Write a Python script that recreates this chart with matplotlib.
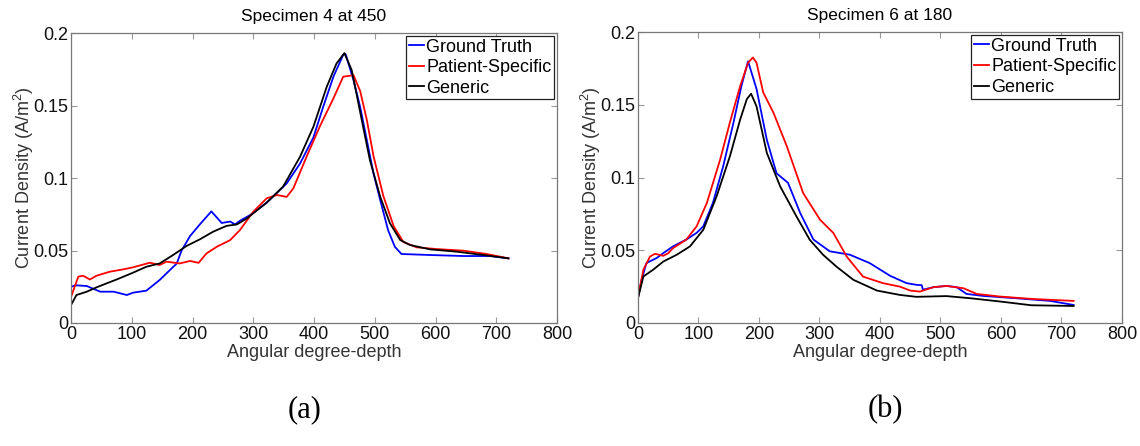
import numpy as np
import matplotlib.pyplot as plt

plt.rcParams['font.family'] = ['Liberation Sans', 'DejaVu Sans']
plt.rcParams['mathtext.default'] = 'regular'

# Specimen 4 at 450
a_gt_x = [0, 8, 26, 48, 70, 92, 102, 124, 146, 163, 174, 182, 196, 212, 231, 248, 262, 270, 278,
          295, 322, 355, 377, 399, 415, 432, 448, 452, 465, 476, 487, 498, 509, 522, 533, 544,
          591, 646, 690, 720]
a_gt_y = [0.025, 0.026, 0.0255, 0.0216, 0.0216, 0.0193, 0.0209, 0.0223, 0.0297, 0.0366, 0.041,
          0.0500, 0.0600, 0.0680, 0.0770, 0.0690, 0.0700, 0.0680, 0.0705, 0.0745, 0.0830, 0.0963,
          0.110, 0.128, 0.149, 0.170, 0.185, 0.1855, 0.1676, 0.149, 0.126, 0.103, 0.0848, 0.064,
          0.0526, 0.0476, 0.0469, 0.0462, 0.0462, 0.0446]
a_ps_x = [0, 12, 20, 31, 42, 64, 86, 102, 130, 146, 157, 179, 196, 210, 223, 240, 262, 278, 300,
          322, 339, 355, 366, 388, 410, 432, 448, 465, 476, 487, 498, 514, 531, 547, 569, 602,
          646, 684, 720]
a_ps_y = [0.018, 0.032, 0.0326, 0.030, 0.0326, 0.0354, 0.037, 0.0384, 0.0416, 0.040, 0.0423,
          0.0411, 0.0428, 0.0415, 0.048, 0.0526, 0.0572, 0.0641, 0.0768, 0.086, 0.0883, 0.087,
          0.0929, 0.115, 0.136, 0.155, 0.1699, 0.171, 0.160, 0.140, 0.115, 0.0878, 0.0669,
          0.0559, 0.0522, 0.051, 0.0499, 0.0476, 0.0446]
a_gen_x = [0, 9, 26, 42, 59, 75, 102, 124, 146, 168, 190, 212, 234, 256, 273, 289, 322, 349,
           377, 399, 421, 437, 450, 462, 470, 481, 492, 509, 525, 542, 558, 591, 635, 679, 720]
a_gen_y = [0.0124, 0.0193, 0.0216, 0.0246, 0.0274, 0.030, 0.0347, 0.0388, 0.0411, 0.0469, 0.0531,
           0.0577, 0.0630, 0.0670, 0.0680, 0.0720, 0.0830, 0.094, 0.1147, 0.1354, 0.163, 0.179,
           0.1862, 0.1745, 0.158, 0.135, 0.1124, 0.0871, 0.0688, 0.0572, 0.0538, 0.0508, 0.0492,
           0.0469, 0.0446]

# Specimen 6 at 180
b_gt_x = [0, 6, 14, 31, 42, 58, 80, 97, 108, 124, 141, 158, 171, 182, 196, 213, 229, 248, 268,
          290, 317, 350, 383, 417, 444, 461, 469, 471, 488, 510, 527, 543, 571, 626, 681, 720]
b_gt_y = [0.017, 0.0297, 0.0412, 0.0447, 0.0481, 0.0527, 0.0574, 0.062, 0.0665, 0.0827, 0.108,
          0.138, 0.163, 0.180, 0.161, 0.126, 0.103, 0.0964, 0.0758, 0.0574, 0.0493, 0.047,
          0.0412, 0.0324, 0.0274, 0.0262, 0.026, 0.0229, 0.0246, 0.0255, 0.0246, 0.020, 0.0186,
          0.017, 0.0152, 0.0124]
b_ps_x = [0, 9, 20, 28, 42, 50, 58, 80, 97, 114, 136, 152, 169, 182, 190, 196, 207, 224, 246,
          273, 301, 323, 345, 372, 405, 433, 450, 466, 488, 510, 538, 560, 598, 653, 720]
b_ps_y = [0.0175, 0.0367, 0.0457, 0.0476, 0.0462, 0.048, 0.0515, 0.0574, 0.0665, 0.0827, 0.1126,
          0.138, 0.163, 0.179, 0.1826, 0.179, 0.1586, 0.1446, 0.1216, 0.0894, 0.071, 0.0619,
          0.0457, 0.0319, 0.0274, 0.025, 0.0223, 0.0216, 0.0246, 0.0255, 0.0239, 0.020, 0.0182,
          0.0165, 0.0152]
b_gen_x = [0, 9, 25, 42, 64, 86, 108, 130, 152, 169, 180, 187, 196, 213, 235, 262, 284, 306,
           328, 356, 395, 433, 460, 510, 550, 600, 650, 720]
b_gen_y = [0.017, 0.032, 0.0366, 0.0423, 0.0469, 0.0527, 0.0641, 0.0871, 0.1147, 0.140, 0.154,
           0.1577, 0.149, 0.117, 0.094, 0.0733, 0.0572, 0.0469, 0.0388, 0.0297, 0.0223, 0.0193,
           0.018, 0.0185, 0.017, 0.0147, 0.0122, 0.0117]

labels = ["Ground Truth", "Patient-Specific", "Generic"]
colors = ["#0000ff", "#ff0000", "#000000"]


def panel(ax, title, series):
    for (xs, ys), lab, col in zip(series, labels, colors):
        ax.plot(xs, ys, color=col, lw=1.3, label=lab)
    ax.set_xlim(0, 800)
    ax.set_ylim(0, 0.2)
    ax.set_xticks(np.arange(0, 801, 100))
    ax.set_yticks([0, 0.05, 0.1, 0.15, 0.2])
    ax.set_yticklabels(["0", "0.05", "0.1", "0.15", "0.2"])
    ax.tick_params(direction='in', top=True, right=True, length=4, width=0.8,
                   color='#999999', labelsize=13, labelcolor='#111111', pad=2)
    for s in ax.spines.values():
        s.set_color('#777777')
        s.set_linewidth(0.9)
    ax.set_title(title, fontsize=12.5, pad=9)
    ax.set_xlabel("Angular degree-depth", fontsize=13, color='#333333', labelpad=1)
    ax.set_ylabel("Current Density (A/m$^2$)", fontsize=13, color='#333333', labelpad=-2)
    leg = ax.legend(loc='upper right', fontsize=13, fancybox=False, framealpha=1,
                    edgecolor='#222222', borderpad=0.15, borderaxespad=0.15,
                    handlelength=0.85, handletextpad=0.12, labelspacing=0.2)
    leg.get_frame().set_linewidth(0.9)


fig = plt.figure(figsize=(11.4, 4.46), dpi=100)
ax1 = fig.add_axes([0.0623, 0.2758, 0.4263, 0.650])
ax2 = fig.add_axes([0.5596, 0.2758, 0.4246, 0.652])

panel(ax1, "Specimen 4 at 450", [(a_gt_x, a_gt_y), (a_ps_x, a_ps_y), (a_gen_x, a_gen_y)])
panel(ax2, "Specimen 6 at 180", [(b_gt_x, b_gt_y), (b_ps_x, b_ps_y), (b_gen_x, b_gen_y)])

fig.text(305 / 1140, 1 - 410 / 446, "(a)", family='Liberation Serif', fontsize=22,
         ha='center', va='center')
fig.text(885 / 1140, 1 - 410 / 446, "(b)", family='Liberation Serif', fontsize=22,
         ha='center', va='center')

fig.savefig("out.png", dpi=100)
